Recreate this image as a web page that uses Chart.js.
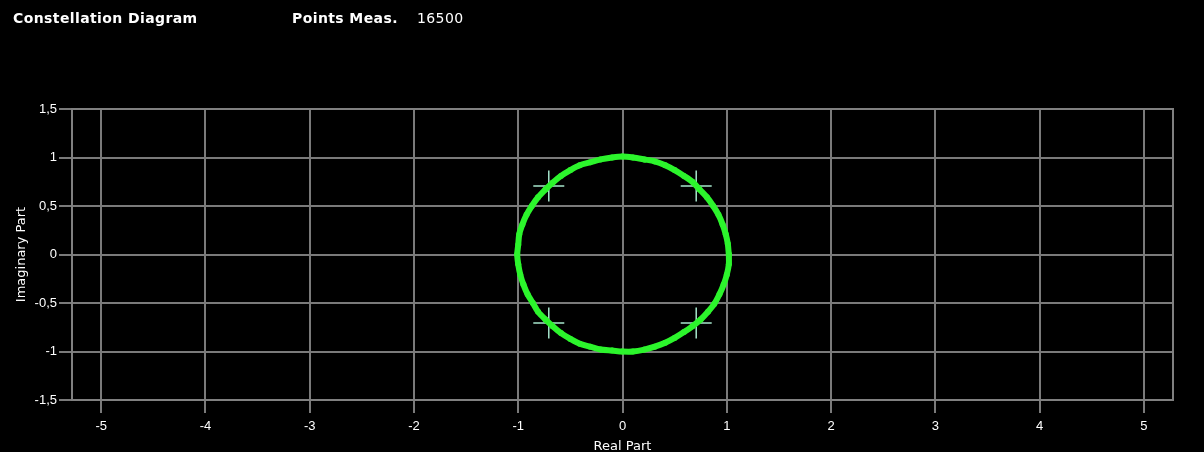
<!DOCTYPE html>
<html>
<head>
<meta charset="utf-8">
<script src="https://cdn.jsdelivr.net/npm/chart.js@4"></script>
<style>
  body { margin: 0; background: #000; }
  #wrap { position: relative; width: 1204px; height: 452px; background: #000; }
  .hdr { position: absolute; top: 10px; color: #fff; font: 14px "DejaVu Sans", sans-serif; letter-spacing: 0.4px; }
  .b { font-weight: bold; }
</style>
</head>
<body>
<div id="wrap">
  <canvas id="c" width="1204" height="452"></canvas>
  <div class="hdr b" style="left:13px">Constellation Diagram</div>
  <div class="hdr b" style="left:292px">Points Meas.</div>
  <div class="hdr" style="left:417px">16500</div>
</div>
<script>
const ringRe = [1.02, 1.01, 0.99, 0.96, 0.92, 0.87, 0.81, 0.74, 0.67, 0.59, 0.50, 0.41, 0.31, 0.21, 0.10,
  0.00, -0.10, -0.21, -0.31, -0.41, -0.50, -0.59, -0.67, -0.74, -0.81, -0.87, -0.92, -0.96, -0.99, -1.00,
  -1.01, -1.00, -0.98, -0.95, -0.91, -0.86, -0.81, -0.74, -0.67, -0.59, -0.50, -0.41, -0.31, -0.21, -0.10,
  0.00, 0.10, 0.21, 0.31, 0.41, 0.50, 0.59, 0.67, 0.75, 0.82, 0.88, 0.93, 0.97, 1.00, 1.02, 1.02];
const ringIm = [0.00, 0.11, 0.21, 0.31, 0.41, 0.50, 0.59, 0.67, 0.75, 0.81, 0.87, 0.92, 0.96, 0.98, 1.00,
  1.01, 1.00, 0.98, 0.95, 0.92, 0.87, 0.81, 0.74, 0.67, 0.59, 0.50, 0.41, 0.31, 0.21, 0.10,
  0.00, -0.10, -0.21, -0.31, -0.41, -0.50, -0.59, -0.67, -0.74, -0.81, -0.87, -0.92, -0.95, -0.98, -0.99,
  -1.00, -1.00, -0.98, -0.95, -0.91, -0.86, -0.80, -0.74, -0.67, -0.59, -0.51, -0.41, -0.31, -0.21, -0.10, 0.00];

// ideal symbol positions (crosses)
const idealRe = [0.707, -0.707, -0.707, 0.707];
const idealIm = [0.707, 0.707, -0.707, -0.707];

const xTicks = [-5, -4, -3, -2, -1, 0, 1, 2, 3, 4, 5];
const yTicks = [-1.5, -1, -0.5, 0, 0.5, 1, 1.5];

const pts = (xs, ys) => xs.map((x, i) => ({ x: x, y: ys[i] }));
const fmt = v => String(v).replace('.', ',');

const frame = {
  id: 'frame',
  afterDraw(chart) {
    const a = chart.chartArea, ctx = chart.ctx;
    ctx.save();
    ctx.strokeStyle = '#808080';
    ctx.lineWidth = 2;
    ctx.strokeRect(a.left, a.top, a.right - a.left, a.bottom - a.top);
    ctx.restore();
  }
};

const grid = { color: '#7a7a7a', lineWidth: 2, tickColor: '#7a7a7a', tickLength: 13, drawTicks: true };
const tickFont = { family: '"Liberation Sans", Arial, sans-serif', size: 13 };
const titleFont = { family: '"DejaVu Sans", sans-serif', size: 13 };

new Chart(document.getElementById('c'), {
  type: 'scatter',
  data: {
    datasets: [
      {
        data: pts(ringRe, ringIm),
        showLine: true,
        tension: 0.3,
        borderColor: '#2cf52c',
        borderWidth: 6,
        backgroundColor: '#2cf52c',
        pointRadius: 3,
        pointBorderWidth: 0
      },
      {
        data: pts(idealRe, idealIm),
        pointStyle: 'cross',
        pointRadius: 15.5,
        borderColor: '#a6e6cc',
        pointBorderWidth: 1.5
      }
    ]
  },
  options: {
    responsive: false,
    animation: false,
    devicePixelRatio: 1,
    layout: { padding: { top: 109, right: 31, left: 0, bottom: 0 } },
    plugins: { legend: { display: false }, tooltip: { enabled: false } },
    scales: {
      x: {
        type: 'linear', min: -5.28, max: 5.28,
        afterFit: s => { s.height = 52; },
        afterBuildTicks: s => { s.ticks = xTicks.map(v => ({ value: v })); },
        grid: grid,
        border: { display: false },
        ticks: { color: '#fff', font: tickFont, padding: 6, maxRotation: 0, autoSkip: false, callback: v => fmt(v) },
        title: { display: true, text: 'Real Part', color: '#fff', font: titleFont, padding: { top: 0, bottom: -2 } }
      },
      y: {
        type: 'linear', min: -1.5, max: 1.5,
        afterFit: s => { s.width = 72; },
        afterBuildTicks: s => { s.ticks = yTicks.map(v => ({ value: v })); },
        grid: grid,
        border: { display: false },
        ticks: { color: '#fff', font: tickFont, padding: 2, autoSkip: false, callback: v => fmt(v) },
        title: { display: true, text: 'Imaginary Part', color: '#fff', font: titleFont, padding: { top: 14, bottom: 0 } }
      }
    }
  },
  plugins: [frame]
});
</script>
</body>
</html>
